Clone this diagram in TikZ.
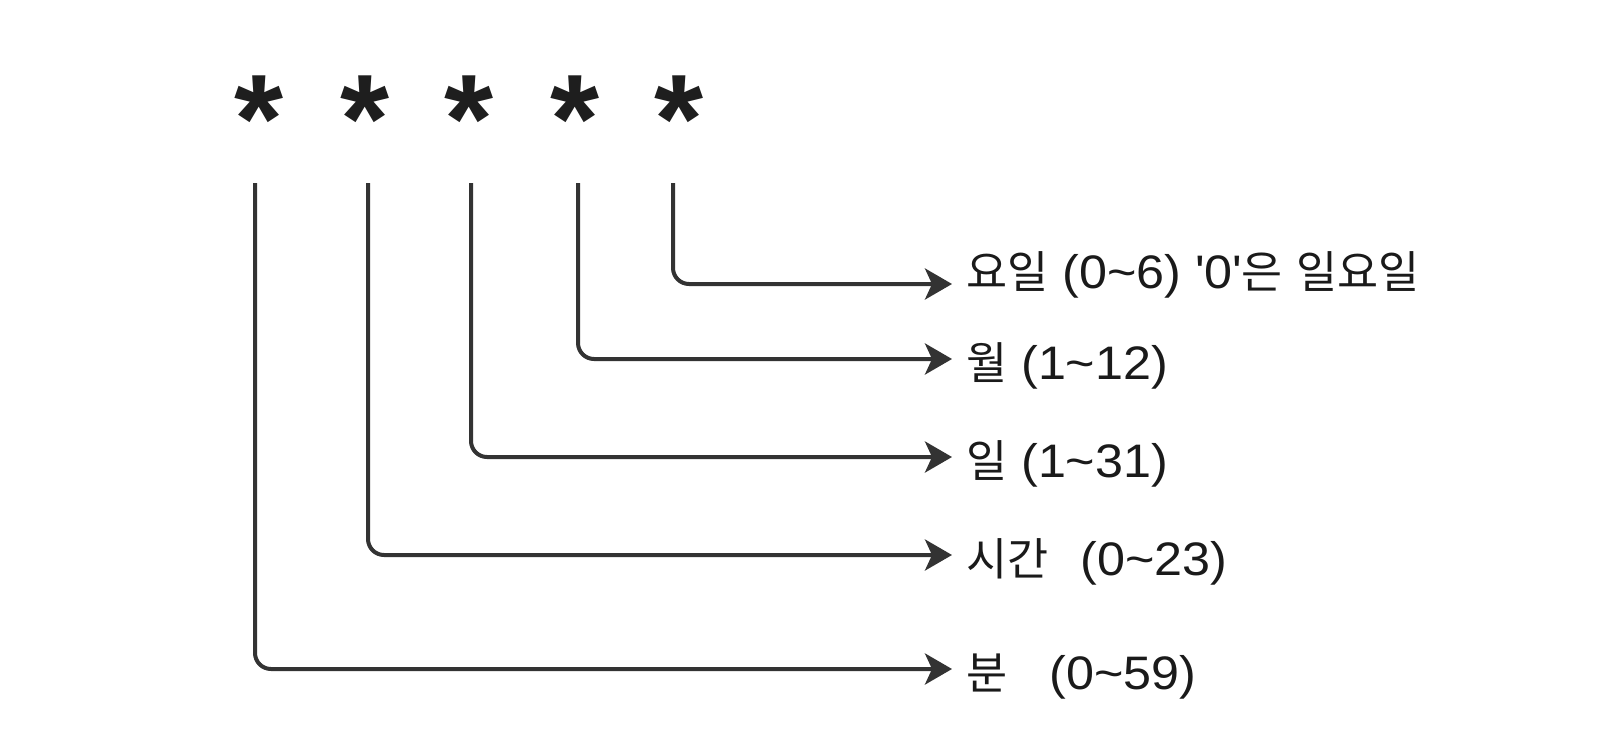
\documentclass[tikz,border=0pt]{standalone}
\usepackage{fontspec}
\setmainfont{Liberation Sans}[FakeStretch=1.07]
\newfontfamily\kr{Noto Sans CJK KR}[Scale=0.95]
\newfontfamily\starfont{Liberation Sans}
\usetikzlibrary{arrows.meta}
\definecolor{linecol}{HTML}{333333}
\definecolor{txtcol}{HTML}{1A1A1A}
\definecolor{starcol}{HTML}{1E1E1E}
\begin{document}
\begin{tikzpicture}[x=1pt,y=-1pt,
  star/.style={font=\starfont\fontsize{126}{126}\selectfont\bfseries, text=starcol, anchor=base, inner sep=0pt},
  lbl/.style={font=\fontsize{47}{52}\selectfont, text=txtcol, anchor=west, inner xsep=14pt, inner ysep=0pt, text height=40pt, text depth=0pt},
  conn/.style={draw=linecol, line width=4pt, rounded corners=16pt, -{Stealth[length=27pt,width=31pt,inset=7pt]}}]
\useasboundingbox (0,0) rectangle (1602,736);
\fill[white] (0,0) rectangle (1602,736);
% asterisks
\node[star] (s1) at (259,162) {*};
\node[star] (s2) at (365,162) {*};
\node[star] (s3) at (469,162) {*};
\node[star] (s4) at (575,162) {*};
\node[star] (s5) at (679,162) {*};
% line starts
\coordinate (l1) at (255,183);
\coordinate (l2) at (368,183);
\coordinate (l3) at (471,183);
\coordinate (l4) at (578,183);
\coordinate (l5) at (673,183);
% labels
\node[lbl, text height=8pt] (t5) at (952,284) {{\kr 요일} (0\textasciitilde 6) \textquotesingle0\textquotesingle{\kr 은} {\kr 일요일}};
\node[lbl] (t4) at (952,359) {{\kr 월} (1\textasciitilde 12)};
\node[lbl] (t3) at (952,457) {{\kr 일} (1\textasciitilde 31)};
\node[lbl] (t2) at (952,555) {{\kr 시간}\hspace{32pt}(0\textasciitilde 23)};
\node[lbl] (t1) at (952,669) {{\kr 분}\hspace{42pt}(0\textasciitilde 59)};
% connectors
\draw[conn] (l5) |- (t5.west);
\draw[conn] (l4) |- (t4.west);
\draw[conn] (l3) |- (t3.west);
\draw[conn] (l2) |- (t2.west);
\draw[conn] (l1) |- (t1.west);
\end{tikzpicture}
\end{document}
